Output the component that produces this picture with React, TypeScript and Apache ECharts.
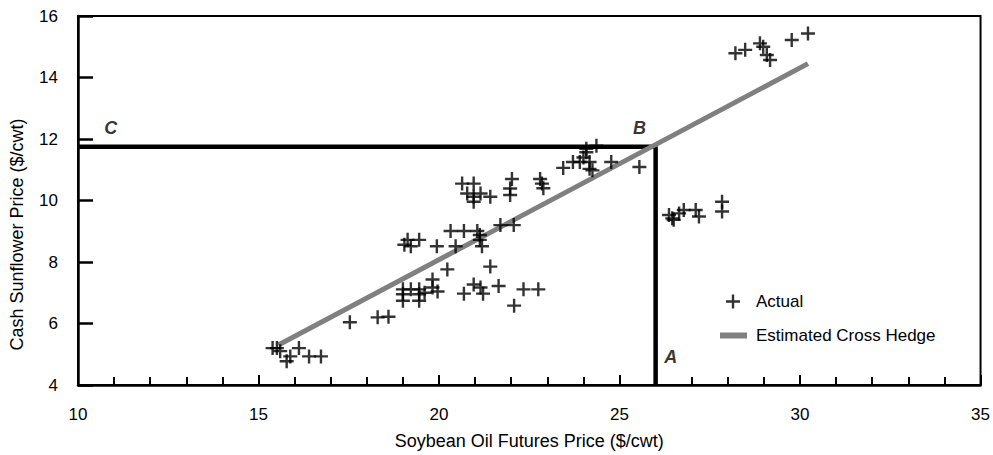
import React, { useEffect, useRef } from "react";
import * as echarts from "echarts";

// Actual observations: [soybean oil futures price, cash sunflower price]
const actualPoints: number[][] = [
  [15.39, 5.2], [15.51, 5.2], [15.6, 5.1], [15.78, 4.77], [15.88, 4.93], [16.12, 5.2], [16.4, 4.93], [16.73, 4.93],
  [17.53, 6.04], [18.3, 6.2], [18.6, 6.22],
  [19.0, 7.11], [19.0, 6.95], [19.0, 6.74], [19.22, 7.11], [19.45, 7.11], [19.45, 6.95], [19.45, 6.74], [19.6, 7.0],
  [19.82, 7.43], [19.82, 7.17], [19.96, 7.04], [20.23, 7.76], [20.69, 6.97], [20.96, 7.27], [21.15, 7.17],
  [21.22, 6.97], [21.42, 7.85], [21.65, 7.22], [22.08, 6.58], [22.34, 7.11], [22.75, 7.11],
  [19.04, 8.56], [19.13, 8.72], [19.22, 8.51], [19.45, 8.72], [19.94, 8.51], [20.46, 8.51], [20.32, 9.01],
  [20.69, 9.01], [21.06, 9.01], [21.13, 8.88], [21.13, 8.72], [21.19, 8.51], [21.7, 9.2], [22.07, 9.2],
  [20.64, 10.55], [20.96, 10.55], [20.78, 10.23], [20.96, 10.12], [20.96, 9.96], [21.15, 10.23], [21.42, 10.12],
  [21.97, 10.39], [21.97, 10.18], [22.02, 10.7], [22.8, 10.7], [22.85, 10.55], [22.89, 10.4],
  [23.44, 11.06], [23.71, 11.25], [23.9, 11.25], [24.0, 11.4], [24.08, 11.68], [24.08, 11.57], [24.17, 11.25],
  [24.17, 11.03], [24.25, 10.98], [24.36, 11.78], [24.77, 11.25], [25.55, 11.09],
  [26.37, 9.53], [26.46, 9.42], [26.5, 9.37], [26.65, 9.58], [26.78, 9.69], [27.11, 9.69], [27.2, 9.48],
  [27.84, 9.96], [27.84, 9.64],
  [28.21, 14.79], [28.48, 14.9], [28.89, 15.11], [28.98, 15.0], [29.08, 14.73], [29.17, 14.57], [29.77, 15.22],
  [30.22, 15.43],
];

// Estimated cross hedge regression line endpoints
const hedgeLine: number[][] = [
  [15.55, 5.3],
  [30.22, 14.45],
];

// C -> B -> A guide path
const guidePath: number[][] = [
  [10, 11.75],
  [26.0, 11.75],
  [26.0, 4],
];

// Point labels
const pointLabels: { name: string; value: number[] }[] = [
  { name: "C", value: [10.91, 12.37] },
  { name: "B", value: [25.55, 12.37] },
  { name: "A", value: [26.42, 4.92] },
];

const xMin = 10;
const xMax = 35;
const xInterval = 5;
const yMin = 4;
const yMax = 16;
const yInterval = 2;

const PLUS = "path://M5.8,0H8.2V5.8H14V8.2H8.2V14H5.8V8.2H0V5.8H5.8Z";
const FONT = "Liberation Sans, Arial, sans-serif";

export default function App() {
  const ref = useRef<HTMLDivElement>(null);
  useEffect(() => {
    if (!ref.current) return;
    const chart = echarts.init(ref.current, undefined, { renderer: "svg" });
    chart.setOption({
      animation: false,
      backgroundColor: "#fff",
      textStyle: { fontFamily: FONT },
      grid: {
        left: 78,
        right: 6,
        top: 16,
        bottom: 67,
        show: true,
        borderColor: "#000",
        borderWidth: 2,
        backgroundColor: "transparent",
      },
      legend: [
        {
          data: [{ name: "Actual", icon: PLUS }],
          left: 726,
          top: 293,
          padding: 0,
          itemWidth: 14,
          itemHeight: 14,
          textStyle: { fontFamily: FONT, fontSize: 17, color: "#000", padding: [0, 0, 0, 11] },
        },
        {
          data: [{ name: "Estimated Cross Hedge", icon: "rect" }],
          left: 720,
          top: 327,
          padding: 0,
          itemWidth: 27,
          itemHeight: 6,
          textStyle: { fontFamily: FONT, fontSize: 17, color: "#000", padding: [0, 0, 0, 4] },
        },
      ],
      xAxis: {
        type: "value",
        min: xMin,
        max: xMax,
        interval: xInterval,
        name: "Soybean Oil Futures Price ($/cwt)",
        nameLocation: "middle",
        nameGap: 47,
        nameTextStyle: { fontFamily: FONT, fontSize: 18, color: "#000" },
        axisLine: { show: true, onZero: false, lineStyle: { color: "#000", width: 2.5 } },
        axisTick: { show: true, inside: true, length: 10, lineStyle: { color: "#000", width: 2 } },
        minorTick: { show: true, splitNumber: 5, length: 8, lineStyle: { color: "#000", width: 2 } },
        axisLabel: { margin: 21, fontFamily: FONT, fontSize: 17, color: "#000" },
        splitLine: { show: false },
      },
      yAxis: {
        type: "value",
        min: yMin,
        max: yMax,
        interval: yInterval,
        name: "Cash Sunflower Price ($/cwt)",
        nameLocation: "middle",
        nameGap: 52,
        nameTextStyle: { fontFamily: FONT, fontSize: 18, color: "#000", padding: [0, 68, 0, 0] },
        axisLine: { show: true, onZero: false, lineStyle: { color: "#000", width: 2.5 } },
        axisTick: { show: true, inside: true, length: 15, lineStyle: { color: "#000", width: 2.5 } },
        axisLabel: { margin: 20, fontFamily: FONT, fontSize: 17, color: "#000" },
        splitLine: { show: false },
      },
      series: [
        {
          name: "Guide",
          type: "line",
          data: guidePath,
          symbol: "none",
          lineStyle: { color: "#000", width: 4.5 },
          z: 3,
        },
        {
          name: "Estimated Cross Hedge",
          type: "line",
          data: hedgeLine,
          symbol: "none",
          itemStyle: { color: "#808080" },
          lineStyle: { color: "#808080", width: 5 },
          z: 4,
        },
        {
          name: "Actual",
          type: "scatter",
          data: actualPoints,
          symbol: PLUS,
          symbolSize: 14,
          itemStyle: { color: "#000" },
          z: 5,
        },
        {
          name: "Labels",
          type: "scatter",
          data: pointLabels,
          symbolSize: 0,
          label: {
            show: true,
            position: "inside",
            formatter: (p: any) => p.name,
            fontFamily: FONT,
            fontSize: 18,
            fontWeight: "bold",
            fontStyle: "italic",
            color: "#000",
          },
          z: 6,
        },
      ],
    });
    return () => chart.dispose();
  }, []);
  return (
    <div
      ref={ref}
      style={{ position: "fixed", left: 0, top: 0, width: 993, height: 455, background: "#fff" }}
    />
  );
}
